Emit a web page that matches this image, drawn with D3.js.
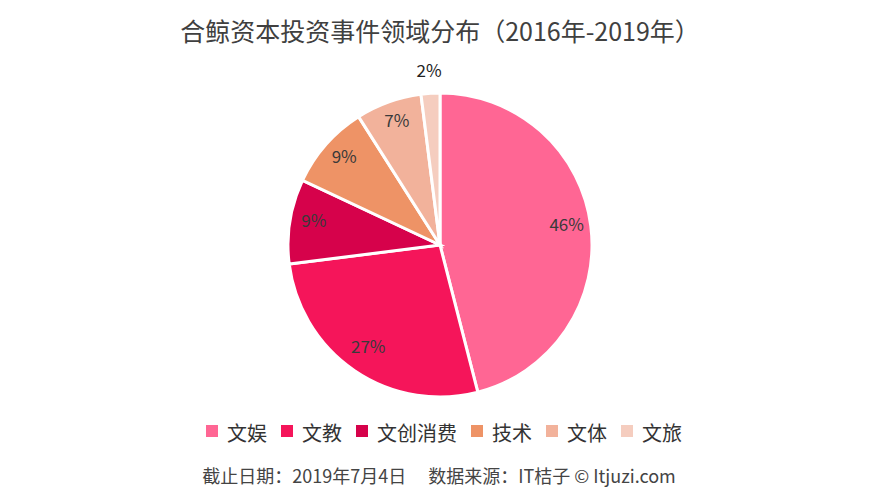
<!DOCTYPE html>
<html>
<head>
<meta charset="utf-8">
<script src="https://cdn.jsdelivr.net/npm/d3@7"></script>
<style>
	body { margin: 0; background: #fff; }
	svg { display: block; font-family: "Noto Sans CJK SC", "Noto Sans", sans-serif; }
</style>
</head>
<body>
<svg width="880" height="502"></svg>
<script>
const categories = ['文娱', '文教', '文创消费', '技术', '文体', '文旅'];
const shares = [46, 27, 9, 9, 7, 2];
const colours = ['#ff6694', '#f5155a', '#d6024b', '#ee9366', '#f2b29b', '#f5cdbf'];
const title = '合鲸资本投资事件领域分布（2016年-2019年）';
const footer = '截止日期：2019年7月4日　 数据来源：IT桔子 © Itjuzi.com';

const svg = d3.select('svg');
const width = +svg.attr('width');
const cx = 440, cy = 245, radius = 152;

const data = categories.map(function(c, i) {
	return { name: c, value: shares[i], colour: colours[i] };
});

const pie = d3.pie().sort(null).value(function(d) { return d.value; });
const arc = d3.arc().innerRadius(0).outerRadius(radius);
const labelArc = d3.arc().innerRadius(radius * 0.84).outerRadius(radius * 0.84);
const outerArc = d3.arc().innerRadius(radius + 22).outerRadius(radius + 22);

svg.append('text')
	.attr('x', width / 2).attr('y', 41)
	.attr('text-anchor', 'middle')
	.attr('font-size', 25)
	.attr('fill', '#404040')
	.text(title);

const g = svg.append('g').attr('transform', 'translate(' + cx + ',' + cy + ')');
const arcs = pie(data);

g.selectAll('path')
	.data(arcs)
	.enter().append('path')
		.attr('d', arc)
		.attr('fill', function(d) { return d.data.colour; })
		.attr('stroke', '#fff')
		.attr('stroke-width', 3);

g.selectAll('text')
	.data(arcs)
	.enter().append('text')
		.attr('transform', function(d) {
			const p = d.data.value < 5 ? outerArc.centroid(d) : labelArc.centroid(d);
			return 'translate(' + p + ')';
		})
		.attr('dy', function(d) { return d.data.value < 5 ? '0.35em' : '0.12em'; })
		.attr('text-anchor', 'middle')
		.attr('font-size', 17)
		.attr('fill', function(d) { return d.data.value < 5 ? '#222' : '#3a3a3a'; })
		.text(function(d) { return d.data.value + '%'; });

// legend
const legend = svg.append('g').attr('font-size', 20).attr('fill', '#333');
const items = legend.selectAll('g').data(data).enter().append('g');
items.append('rect')
	.attr('width', 12).attr('height', 12)
	.attr('y', -10)
	.attr('fill', function(d) { return d.colour; });
items.append('text')
	.attr('x', 21)
	.attr('y', 0)
	.attr('dy', '0.3em')
	.text(function(d) { return d.name; });
let lx = 0;
items.each(function() {
	const w = this.getBBox().width;
	d3.select(this).attr('transform', 'translate(' + lx + ',0)');
	lx += w + 14;
});
lx -= 14;
legend.attr('transform', 'translate(' + (cx + 4 - lx / 2) + ',435)');

svg.append('text')
	.attr('x', width / 2 - 1).attr('y', 483)
	.attr('text-anchor', 'middle')
	.attr('font-size', 18)
	.attr('fill', '#444')
	.text(footer);
</script>
</body>
</html>
